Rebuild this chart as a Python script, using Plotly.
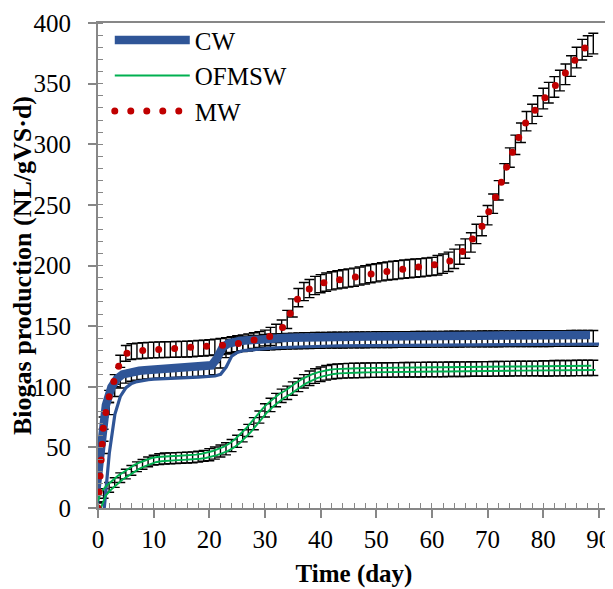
import plotly.graph_objects as go

# ---------------- data ----------------
DAYS = list(range(90))

CW = [0, 50, 82, 97, 104, 107.5, 109, 110, 110.5, 111,
      111.3, 111.5, 111.7, 111.9, 112.1, 112.3, 112.5, 112.7, 112.9, 113.2,
      113.6, 115, 121, 130, 133, 134.5, 135, 135.5, 136, 136.3,
      136.6, 136.9, 137.1, 137.3, 137.5, 137.7, 137.9, 138, 138.1, 138.2,
      138.3, 138.35, 138.4, 138.45, 138.5, 138.55, 138.6, 138.65, 138.7, 138.75,
      138.8, 138.85, 138.9, 138.9, 138.95, 139, 139, 139.05, 139.1, 139.1,
      139.15, 139.2, 139.2, 139.25, 139.3, 139.3, 139.35, 139.4, 139.4, 139.45,
      139.5, 139.5, 139.55, 139.6, 139.6, 139.6, 139.65, 139.7, 139.7, 139.7,
      139.75, 139.75, 139.8, 139.8, 139.8, 139.85, 139.85, 139.9, 139.9, 139.9]

OFMSW = [0, 12, 17, 21, 25, 28, 31, 34, 36, 38,
         39.5, 40.3, 40.8, 41, 41.2, 41.4, 41.6, 41.8, 42.3, 43,
         44, 45.3, 47, 48.8, 51.5, 55, 59.5, 64, 69.5, 75,
         80.5, 85, 89, 92.5, 95, 98.5, 101.5, 104.5, 107, 108.8,
         110.3, 111.5, 112.3, 112.8, 113.1, 113.3, 113.4, 113.5, 113.6, 113.7,
         113.7, 113.8, 113.8, 113.9, 113.9, 114, 114, 114.1, 114.1, 114.2,
         114.2, 114.3, 114.3, 114.4, 114.4, 114.5, 114.5, 114.6, 114.6, 114.7,
         114.7, 114.8, 114.8, 114.9, 114.9, 115, 115, 115, 115.1, 115.1,
         115.2, 115.2, 115.3, 115.3, 115.4, 115.4, 115.5, 115.5, 115.6, 115.6]

MW = [0, 70, 92, 105, 121, 127.5, 129, 129.5, 129.8, 130.1,
      130.3, 130.5, 130.6, 130.7, 130.8, 130.9, 131, 131.3, 131.6, 131.9,
      132.3, 132.8, 133.3, 134, 134.8, 135.5, 136.3, 137.1, 138, 139,
      140.2, 141.5, 144, 147.5, 155.5, 165, 173.5, 178.5, 181, 183.5,
      185, 186.3, 187.4, 188.2, 189, 189.7, 190.3, 191.3, 192.3, 193.3,
      194, 194.8, 195.5, 196, 196.5, 197, 197.4, 197.8, 198.2, 198.7,
      199.2, 200.2, 201.5, 203, 205.5, 209, 214, 219, 226, 232.5,
      241.5, 251, 262, 276, 289, 299.5, 309.5, 319, 325, 331.5,
      337.7, 342.5, 347.3, 352.5, 357.7, 364.5, 371.5, 378, 381, 383]

CW_ERR = [5, 5, 5, 5, 5, 4.5, 4.5, 4.5, 4.5, 4.5,
          4.5, 4.5, 4.5, 4.5, 4.5, 4.5, 4.5, 4.5, 4.5, 4.5,
          4.5, 5, 5.5, 6, 6, 6, 6, 6, 6, 6,
          6.5, 6.5, 6.5, 6.5, 6.5, 6.5, 6.5, 6.5, 6.5, 6.5,
          6.5, 6.5, 6.5, 6.5, 6.5, 6.5, 6.5, 6.5, 6.5, 6.5,
          6.5, 6.5, 6.5, 6.5, 6.5, 6.5, 6.5, 6.5, 6.5, 6.5,
          6.5, 6.5, 6.5, 6.5, 6.5, 6.5, 6.5, 6.5, 6.5, 6.5,
          6.5, 6.5, 6.5, 6.5, 6.5, 6.5, 6.5, 6.5, 6.5, 6.5,
          6.5, 6.5, 6.5, 6.5, 6.5, 6.5, 6.5, 6.5, 6.5, 6.5]

OFMSW_ERR = [4, 4, 4, 4, 4, 4, 4, 4, 4, 4,
             4, 4.5, 4.5, 4.5, 4.5, 4.5, 4.5, 4.5, 4.5, 4.5,
             5, 5, 5, 5, 5, 5, 5, 5, 5, 5,
             5.5, 5.5, 5.5, 5.5, 5.5, 5.5, 5.5, 5.5, 6, 6,
             6, 6, 6, 6, 6, 6, 6, 6, 6, 6,
             6, 6, 6, 6, 6, 6, 6, 6, 6, 6,
             6, 6, 6, 6, 6, 6, 6, 6, 6, 6,
             6, 6, 6, 6, 6, 6, 6, 6, 6, 6,
             6.3, 6.3, 6.3, 6.3, 6.3, 6.3, 6.3, 6.3, 6.3, 6.3]

MW_ERR = [5, 5, 5, 5, 5, 6.5, 6.5, 6.5, 6.5, 6.5,
          6.5, 6.5, 6.5, 6.5, 6.5, 6.5, 6.5, 6.5, 6.5, 6.5,
          6.5, 6.5, 6.5, 6.5, 6.5, 6.5, 6.5, 6.5, 6.5, 6.5,
          6.5, 7.5, 7.5, 7.5, 7.5, 7.5, 7.5, 7.5, 7.5, 7.5,
          7.5, 7.5, 7.5, 7.5, 7.5, 7.5, 7.5, 7.5, 7.5, 7.5,
          7.5, 7.5, 7.5, 7.5, 7.5, 7.5, 7.5, 7.5, 7.5, 7.5,
          7.5, 8, 8, 8, 8, 8, 8, 8, 8, 8,
          8, 8, 8, 8, 8, 8, 8, 8, 8, 8.5,
          8.5, 8.5, 8.5, 8.5, 8.5, 8.5, 8.5, 8.5, 8.5, 8.5]

SERIES_NAMES = ["CW", "OFMSW", "MW"]
X_RANGE = [0, 92]
Y_RANGE = [0, 400]
X_TICKS = [0, 10, 20, 30, 40, 50, 60, 70, 80, 90]
Y_TICKS = [0, 50, 100, 150, 200, 250, 300, 350, 400]
X_TITLE = "Time (day)"
Y_TITLE = "Biogas production (NL/gVS·d)"

# ---------------- styling ----------------
BLUE = "#2F5597"
GREEN = "#00B050"
RED = "#C00000"
AXIS_GREY = "#878787"
FONT = "Liberation Serif"

# the page body adds an 8 px offset, so the figure is 8 px smaller
W, H = 605, 581
MARGIN = dict(l=90, r=3, t=15, b=81)
PW = W - MARGIN["l"] - MARGIN["r"]
PH = H - MARGIN["t"] - MARGIN["b"]
KX = PW / (X_RANGE[1] - X_RANGE[0])
KY = PH / (Y_RANGE[1] - Y_RANGE[0])


def shifted(dx_px, dy_px):
    """axis ranges that draw a trace dx px to the right and dy px down"""
    xr = [X_RANGE[0] - dx_px / KX, X_RANGE[1] - dx_px / KX]
    yr = [Y_RANGE[0] + dy_px / KY, Y_RANGE[1] + dy_px / KY]
    return xr, yr


fig = go.Figure()

# error bars (drawn underneath the lines, like the original)
for vals, errs in [(CW, CW_ERR), (OFMSW, OFMSW_ERR), (MW, MW_ERR)]:
    fig.add_trace(go.Scatter(
        x=DAYS, y=vals, mode="markers",
        marker=dict(size=1, color="rgba(0,0,0,0)"),
        error_y=dict(type="data", array=errs, visible=True,
                     color="black", thickness=1.4, width=5),
        showlegend=False, hoverinfo="skip"))

# compound lines emulated by offset strokes on overlay axes
# (axis n, dx px, dy px, color, width, legend name)
strokes = [
    (2, -3.25, -3.25, BLUE, 8.5, SERIES_NAMES[0]),
    (3, 5.75, 5.75, BLUE, 3.2, None),
    (4, -2.1, -2.1, GREEN, 1.9, SERIES_NAMES[1]),
    (5, 2.1, 2.1, GREEN, 1.9, None),
]
series_for_axis = {2: CW, 3: CW, 4: OFMSW, 5: OFMSW}
layout_axes = {}
for n, dx, dy, col, wdt, name in strokes:
    xr, yr = shifted(dx, dy)
    fig.add_trace(go.Scatter(
        x=DAYS, y=series_for_axis[n], mode="lines",
        line=dict(color=col, width=wdt),
        xaxis=f"x{n}", yaxis=f"y{n}",
        name=name if name else "", showlegend=name is not None,
        hoverinfo="skip"))
    layout_axes[f"xaxis{n}"] = dict(overlaying="x", range=xr, visible=False,
                                    anchor=f"y{n}", automargin=False)
    layout_axes[f"yaxis{n}"] = dict(overlaying="y", range=yr, visible=False,
                                    anchor=f"x{n}", automargin=False)

# MW: round dotted line
fig.add_trace(go.Scatter(
    x=DAYS, y=MW, mode="lines",
    line=dict(color=RED, width=7, dash="1px,15.5px"),
    xaxis="x6", yaxis="y6", name=SERIES_NAMES[2], hoverinfo="skip"))
layout_axes["xaxis6"] = dict(overlaying="x", range=X_RANGE, visible=False,
                             anchor="y6", automargin=False)
layout_axes["yaxis6"] = dict(overlaying="y", range=Y_RANGE, visible=False,
                             anchor="x6", automargin=False)

tickfont = dict(family=FONT, size=25, color="black")

fig.update_layout(
    width=W, height=H, margin=MARGIN,
    paper_bgcolor="white", plot_bgcolor="white",
    font=dict(family=FONT, color="black"),
    showlegend=True,
    legend=dict(x=0.023, y=1.012, xanchor="left", yanchor="top",
                bgcolor="rgba(0,0,0,0)", font=dict(family=FONT, size=25),
                itemwidth=75, tracegroupgap=0),
    xaxis=dict(range=X_RANGE, tickvals=X_TICKS, ticks="outside", ticklen=8,
               tickwidth=1.5, tickcolor=AXIS_GREY, showline=True, linecolor=AXIS_GREY,
               linewidth=2, mirror=True, showgrid=False, zeroline=False,
               tickfont=tickfont, automargin=False, ticklabeloverflow="allow",
               minor=dict(dtick=2, ticks="inside", ticklen=5, tickwidth=1.2,
                          tickcolor=AXIS_GREY, showgrid=False),
               title=dict(text=f"<b>{X_TITLE}</b>", font=dict(family=FONT, size=25),
                          standoff=12)),
    yaxis=dict(range=Y_RANGE, tickvals=Y_TICKS, ticks="outside", ticklen=8,
               tickwidth=1.5, tickcolor=AXIS_GREY, showline=True, linecolor=AXIS_GREY,
               linewidth=2, mirror=True, showgrid=False, zeroline=False,
               tickfont=tickfont, ticklabelstandoff=12, automargin=False,
               ticklabeloverflow="allow",
               minor=dict(dtick=10, ticks="inside", ticklen=5, tickwidth=1.2,
                          tickcolor=AXIS_GREY, showgrid=False),
               title=dict(text=f"<b>{Y_TITLE}</b>", font=dict(family=FONT, size=26),
                          standoff=0)),
    yaxis7=dict(overlaying="y", side="right", anchor="x", range=Y_RANGE, dtick=10,
                ticks="inside", ticklen=5, tickwidth=1.2, tickcolor=AXIS_GREY,
                showticklabels=False, showgrid=False, zeroline=False, showline=False,
                automargin=False),
    **layout_axes,
)

post = """
var gd = document.getElementById('{plot_id}');
gd.querySelectorAll('path').forEach(function(p){
  var d = p.style.strokeDasharray;
  if (d && d.indexOf('15.5') >= 0) {
    p.style.strokeLinecap = 'round';
    p.style.strokeDasharray = '0 16';
  }
});
"""

fig.write_html("out.html", post_script=post)
